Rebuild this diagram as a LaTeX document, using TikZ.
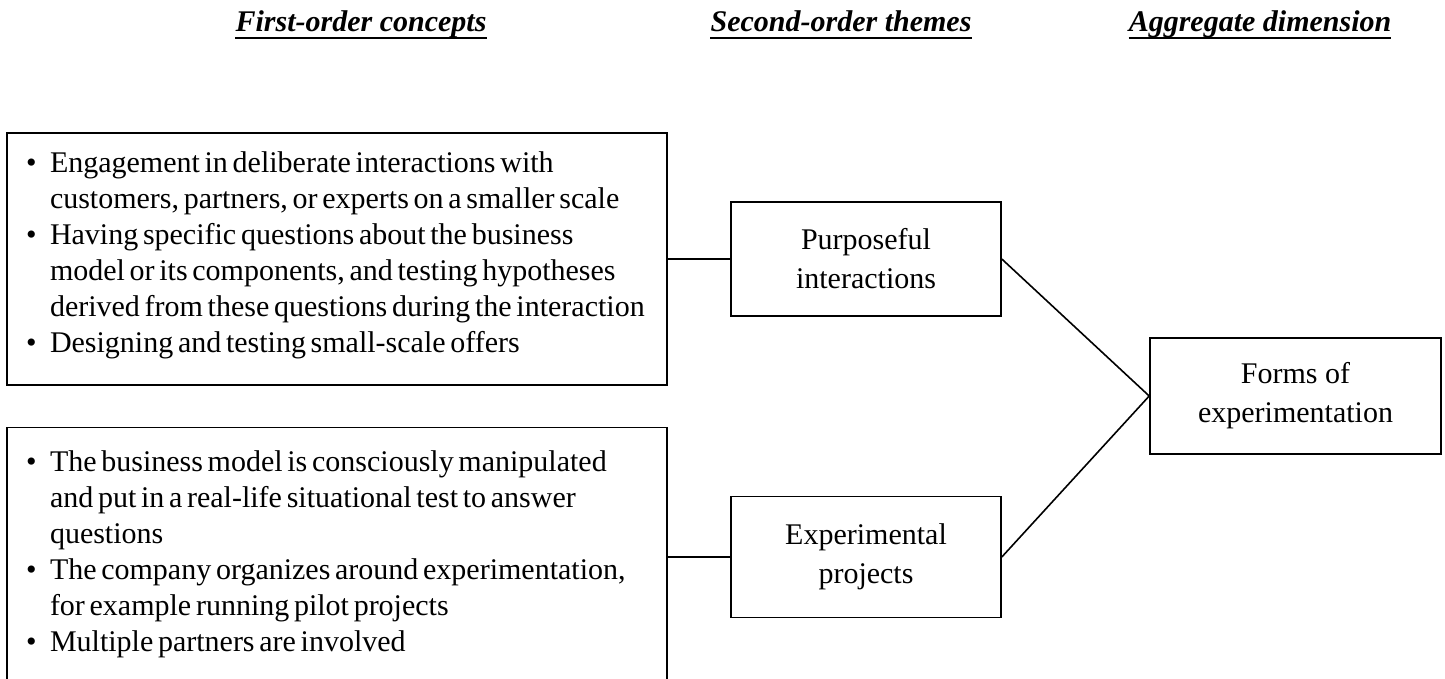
\documentclass[tikz,border=0pt]{standalone}
\usepackage{fontspec}
\setmainfont{Liberation Serif}
\newcommand{\tsp}{\spaceskip=4.7pt\relax}
\newcommand{\bul}{\hspace*{9pt}\makebox[24pt][l]{\raisebox{0.5pt}{\fontsize{30}{30}\selectfont •}}}
\newcommand{\ind}{\hspace*{33pt}}
\begin{document}
\begin{tikzpicture}[x=1pt,y=-1pt,
  hdr/.style={font=\fontsize{30}{36}\selectfont\bfseries\itshape, inner sep=0pt, anchor=base},
  listbox/.style={draw, line width=1.6pt, minimum width=660pt, inner sep=0pt, align=left,
    text width=640pt, font=\fontsize{30}{36}\selectfont},
  themebox/.style={draw, line width=1.6pt, minimum width=270pt, align=center,
    font=\fontsize{30}{39}\selectfont},
  conn/.style={line width=1.6pt}
]
\useasboundingbox (0,0) rectangle (1445,678);

\node[hdr] (h1) at (361,31) {First-order concepts};
\node[hdr] (h2) at (841,31) {Second-order themes};
\node[hdr] (h3) at (1260,31) {Aggregate dimension};
\foreach \h in {h1,h2,h3}{
  \draw[line width=1.8pt] ([yshift=-7pt]\h.base west) -- ([yshift=-7pt]\h.base east);
}

\begin{scope}
\clip (0,0) rectangle (1445,678);
\node[listbox, minimum height=252pt] (b1) at (337,259) {%
\tsp\bul Engagement in deliberate interactions with\\
\ind customers, partners, or experts on a smaller scale\\
\bul Having specific questions about the business\\
\ind model or its components, and testing hypotheses\\
\ind derived from these questions during the interaction\\
\bul Designing and testing small-scale offers\rule[-13pt]{0pt}{1pt}};
\node[listbox, minimum height=259pt] (b2) at (337,557) {%
\tsp\bul The business model is consciously manipulated\\
\ind and put in a real-life situational test to answer\\
\ind questions\\
\bul The company organizes around experimentation,\\
\ind for example running pilot projects\\
\bul Multiple partners are involved\rule[-11pt]{0pt}{1pt}};
\end{scope}

\node[themebox, minimum height=114pt] (p) at (866,259) {Purposeful\\interactions};
\node[themebox, minimum height=121pt] (e) at (866,557) {Experimental\\projects};
\node[themebox, minimum width=291pt, minimum height=116pt] (f) at (1295.5,396) {Forms of\\experimentation};

\draw[conn] (b1.east) -- (p.west);
\draw[conn] (b2.east) -- (e.west);
\draw[conn] (p.east) -- (f.west);
\draw[conn] (e.east) -- (f.west);
\end{tikzpicture}
\end{document}
